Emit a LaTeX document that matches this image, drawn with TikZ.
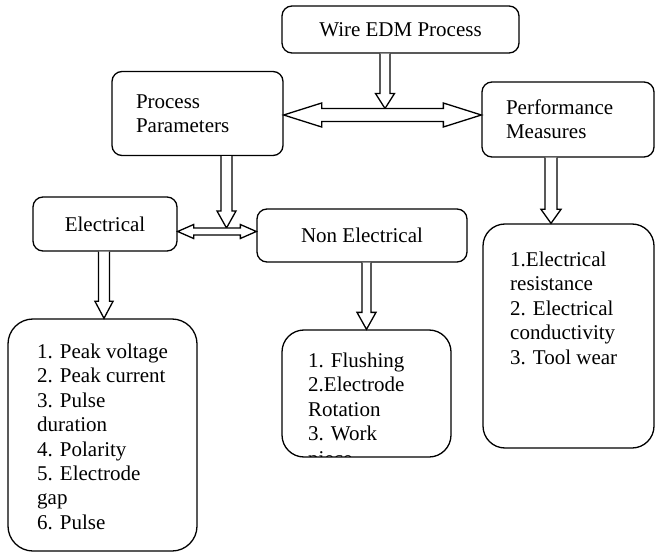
\documentclass[tikz,border=0pt]{standalone}
\usepackage{fontspec}
\setmainfont{Liberation Serif}
\newfontfamily\timesfont{Liberation Serif}
\usetikzlibrary{calc}
\tikzset{
 box/.style={draw, line width=1.3bp, rounded corners=10bp, inner sep=0pt},
 listbox/.style={draw, line width=1.3bp, rounded corners=22bp, inner sep=0pt},
 txt/.style={font=\timesfont\fontsize{21bp}{24.4bp}\selectfont},
 listtxt/.style={txt, align=left, inner sep=0pt, anchor=north west},
 blockarrow/.style={draw, line width=1.3bp, fill=white, line join=miter},
}
\newcommand{\vbarrow}[5]{\draw[blockarrow] let \p1=(#1), \p2=(#2) in (\x1-#3,\y1) -- (\x1-#3,\y2+#5) -- (\x1-#4,\y2+#5) -- (\x1,\y2) -- (\x1+#4,\y2+#5) -- (\x1+#3,\y2+#5) -- (\x1+#3,\y1);}
\newcommand{\hbarrow}[5]{\draw[blockarrow] let \p1=(#1), \p2=(#2) in (\x1,\y1) -- (\x1+#5,\y1+#4) -- (\x1+#5,\y1+#3) -- (\x2-#5,\y1+#3) -- (\x2-#5,\y1+#4) -- (\x2,\y1) -- (\x2-#5,\y1-#4) -- (\x2-#5,\y1-#3) -- (\x1+#5,\y1-#3) -- (\x1+#5,\y1-#4) -- cycle;}
\begin{document}
\begin{tikzpicture}[x=1bp,y=-1bp]
\useasboundingbox (0,0) rectangle (655,552);
% boxes
\node[box, txt, minimum width=237bp, minimum height=47bp] (wire) at (400.5,29.5) {Wire EDM Process};
\node[box, txt, align=left, text width=123bp, inner xsep=24bp, minimum height=84bp] (pp) at (197.5,113.5) {Process\\Parameters};
\node[box, txt, align=left, text width=124bp, inner xsep=24bp, minimum height=75bp] (pm) at (568,119.5) {Performance\\Measures};
\node[box, txt, minimum width=144bp, minimum height=54bp] (el) at (105,224) {Electrical};
\node[box, txt, minimum width=210bp, minimum height=53bp] (ne) at (362,235.5) {Non Electrical};
\node[listbox, rounded corners=25bp, minimum width=189bp, minimum height=232bp] (elist) at (102.5,435) {};
\node[listbox, minimum width=169bp, minimum height=127bp] (nelist) at (366.5,393.5) {};
\node[listbox, minimum width=171bp, minimum height=224bp] (pmlist) at (568.5,336) {};
% list texts
\node[listtxt] (eltext) at (37,343.7) {1. Peak voltage\\2. Peak current\\3. Pulse\\duration\\4. Polarity\\5. Electrode\\gap\\6. Pulse};
\begin{scope}
\clip ([shift={(1bp,1bp)}]nelist.south west) rectangle ([shift={(-1bp,-1bp)}]nelist.north east);
\node[listtxt] (netext) at (308,352.7) {1. Flushing\\2.Electrode\\Rotation\\3. Work\\piece};
\end{scope}
\node[listtxt] (pmtext) at (510,251.7) {1.Electrical\\resistance\\2. Electrical\\conductivity\\3. Tool wear};
% arrow coordinates
\coordinate (w1) at ([xshift=-15.5bp]wire.south);
\coordinate (w1tip) at ($(w1 |- pp.east)+(0,-5)$);
\coordinate (p1) at ([xshift=29bp]pp.south);
\coordinate (p1tip) at ($(p1 |- el.east)+(0,4)$);
\coordinate (e1) at ([xshift=-1bp]el.south);
\coordinate (e1tip) at (e1 |- elist.north);
\coordinate (n1) at ([xshift=4.5bp]ne.south);
\coordinate (n1tip) at (n1 |- nelist.north);
\coordinate (m1) at ([xshift=-17bp]pm.south);
\coordinate (m1tip) at (m1 |- pmlist.north);
\coordinate (l1) at ([yshift=-7.5bp]el.east);
\coordinate (h1) at ([yshift=-1.5bp]pp.east);
% block arrows
\vbarrow{w1}{w1tip}{5bp}{9.5bp}{15bp}
\vbarrow{p1}{p1tip}{5.5bp}{9.5bp}{17bp}
\vbarrow{e1}{e1tip}{5.5bp}{9bp}{17bp}
\vbarrow{n1}{n1tip}{4.5bp}{9.5bp}{17bp}
\vbarrow{m1}{m1tip}{6bp}{10bp}{14bp}
\hbarrow{h1}{h1 -| pm.west}{6.5bp}{12bp}{38bp}
\hbarrow{l1}{l1 -| ne.west}{3.5bp}{7bp}{16bp}
\end{tikzpicture}
\end{document}
